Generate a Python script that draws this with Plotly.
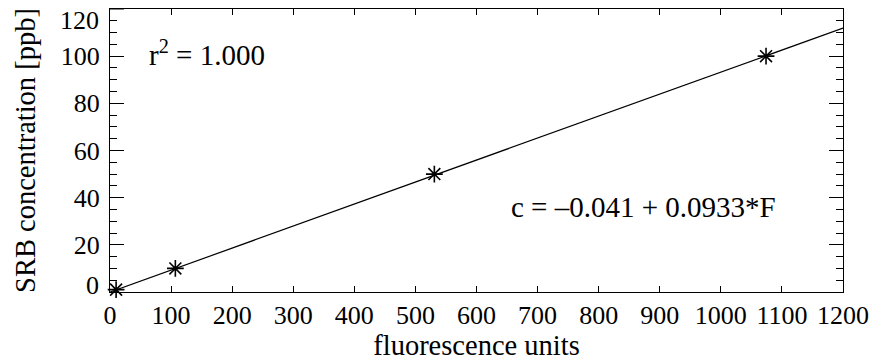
import plotly.graph_objects as go

# Calibration standards: fluorescence reading vs. SRB concentration
fluorescence = [10, 107, 531, 1074]
concentration = [1, 10, 50, 100]

# Linear fit parameters
intercept = -0.041
slope = 0.0933
r_squared = 1.000

fit_x = [0, 1200]
fit_y = [intercept + slope * f for f in fit_x]

x_ticks = list(range(0, 1201, 100))
y_ticks = [20, 40, 60, 80, 100]
y_edge_labels = [0, 120]

FONT = "Liberation Serif"
FS = 26
FS_TITLE = 28.5
FS_NOTE = 29
BLACK = "#000000"

fig = go.Figure()

fig.add_trace(go.Scatter(
    x=fit_x, y=fit_y, mode="lines",
    line=dict(color=BLACK, width=1.2),
    showlegend=False, hoverinfo="skip",
))

fig.add_trace(go.Scatter(
    x=fluorescence, y=concentration, mode="markers",
    marker=dict(symbol="asterisk-open", size=14, color=BLACK,
                line=dict(color=BLACK, width=1.6)),
    showlegend=False, cliponaxis=False,
))

fig.update_layout(
    width=877, height=361,
    margin=dict(l=110, r=30, t=8, b=69),
    paper_bgcolor="white", plot_bgcolor="white",
    font=dict(family=FONT, size=FS, color=BLACK),
    xaxis=dict(
        range=[0, 1200], tickvals=x_ticks, ticktext=[str(v) for v in x_ticks],
        ticks="inside", ticklen=6, tickwidth=1, tickcolor=BLACK,
        showline=True, linecolor=BLACK, linewidth=1.2, mirror="ticks",
        showgrid=False, zeroline=False,
        tickfont=dict(family=FONT, size=FS),
        title=dict(text="fluorescence units",
                   font=dict(family=FONT, size=FS_TITLE), standoff=0),
    ),
    yaxis=dict(
        range=[0, 120], tickvals=y_ticks, ticktext=[str(v) for v in y_ticks],
        ticks="inside", ticklen=14, tickwidth=1, tickcolor=BLACK,
        minor=dict(dtick=5, ticks="inside", ticklen=7, tickwidth=1,
                   tickcolor=BLACK, showgrid=False),
        showline=True, linecolor=BLACK, linewidth=1.2, mirror="ticks",
        showgrid=False, zeroline=False,
        tickfont=dict(family=FONT, size=FS),
        ticklabelstandoff=4,
        title=dict(text="SRB concentration [ppb]",
                   font=dict(family=FONT, size=FS_TITLE), standoff=16),
    ),
)

# End labels of the y axis sit just inside the plot frame
for v, shift in zip(y_edge_labels, [7, -11]):
    fig.add_annotation(
        x=0, xref="paper", y=v, yref="y", text=str(v),
        showarrow=False, xanchor="right", yanchor="middle",
        xshift=-9, yshift=shift,
        font=dict(family=FONT, size=FS, color=BLACK),
    )
fig.add_shape(type="line", xref="paper", x0=0, x1=14 / 737, yref="y",
              y0=120, y1=120, line=dict(color=BLACK, width=1))

fig.add_annotation(
    x=0.05, xref="paper", y=0.845, yref="paper",
    text=f"r<sup>2</sup> = {r_squared:.3f}",
    showarrow=False, xanchor="left", yanchor="middle",
    font=dict(family=FONT, size=FS_NOTE, color=BLACK),
)
fig.add_annotation(
    x=0.544, xref="paper", y=0.30, yref="paper",
    text=f"c = \u2013{abs(intercept):.3f} + {slope:.4f}*F",
    showarrow=False, xanchor="left", yanchor="middle",
    font=dict(family=FONT, size=FS_NOTE, color=BLACK),
)

fig.write_html("out.html")
